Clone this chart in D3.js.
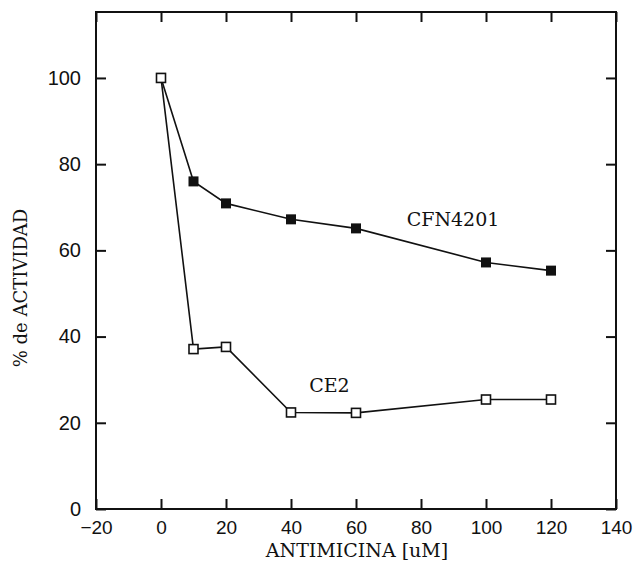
<!DOCTYPE html>
<html>
<head>
<meta charset="utf-8">
<script src="https://cdn.jsdelivr.net/npm/d3@7"></script>
<style>
  body { margin: 0; background: #fff; }
  .tick text { font-family: "Liberation Sans", sans-serif; font-size: 20px; fill: #111; }
  .lbl { font-family: "DejaVu Serif", serif; fill: #111; }
</style>
</head>
<body>
<svg width="638" height="573"></svg>
<script>
// antimicina concentration (uM)
var conc = [0, 10, 20, 40, 60, 100, 120];
// % actividad
var cfn4201 = [100, 76.0, 70.9, 67.2, 65.1, 57.2, 55.3];
var ce2 = [100, 37.1, 37.6, 22.4, 22.3, 25.4, 25.4];

var xTicks = [-20, 0, 20, 40, 60, 80, 100, 120, 140];
var yTicks = [0, 20, 40, 60, 80, 100];

var margin = { top: 12, right: 22, bottom: 64, left: 96 };

var svg = d3.select("svg"),
    width = +svg.attr("width") - margin.left - margin.right,
    height = +svg.attr("height") - margin.top - margin.bottom;

var x = d3.scaleLinear().domain([-20, 140]).range([0, width]),
    y = d3.scaleLinear().domain([0, 115.3]).range([height, 0]);

var g = svg.append("g")
    .attr("transform", "translate(" + margin.left + "," + margin.top + ")");

function fmt(d) { return d < 0 ? "\u2212" + Math.abs(d) : d; }

// axes, ticks pointing inward
var xAx = g.append("g")
    .attr("transform", "translate(0," + height + ")")
    .call(d3.axisBottom(x).tickValues(xTicks).tickSizeInner(-10).tickSizeOuter(0).tickPadding(12).tickFormat(fmt));
xAx.selectAll("text").style("font-size", "19px");
g.append("g")
    .call(d3.axisTop(x).tickValues(xTicks).tickSizeInner(-10).tickSizeOuter(0).tickFormat(""));
g.append("g")
    .call(d3.axisLeft(y).tickValues(yTicks).tickSizeInner(-10).tickSizeOuter(0).tickPadding(15));
g.append("g")
    .attr("transform", "translate(" + width + ",0)")
    .call(d3.axisRight(y).tickValues(yTicks).tickSizeInner(-10).tickSizeOuter(0).tickFormat(""));

g.selectAll(".domain").remove();
g.selectAll(".tick line").attr("stroke", "#111").attr("stroke-width", 2);

g.append("rect")
    .attr("x", 0).attr("y", 0)
    .attr("width", width).attr("height", height)
    .attr("fill", "none")
    .attr("stroke", "#111")
    .attr("stroke-width", 2);

var series = [
    { name: "CFN4201", values: cfn4201, filled: true },
    { name: "CE2", values: ce2, filled: false }
];

var line = d3.line()
    .x(function (d) { return x(d[0]); })
    .y(function (d) { return y(d[1]); });

series.forEach(function (s) {
    var pts = conc.map(function (c, i) { return [c, s.values[i]]; });

    g.append("path")
        .datum(pts)
        .attr("fill", "none")
        .attr("stroke", "#111")
        .attr("stroke-width", 1.6)
        .attr("d", line);

    var sz = s.filled ? 10 : 9;
    g.selectAll(".pt-" + s.name)
        .data(pts)
        .enter().append("rect")
        .attr("x", function (d) { return x(d[0]) - sz / 2; })
        .attr("y", function (d) { return y(d[1]) - sz / 2; })
        .attr("width", sz)
        .attr("height", sz)
        .attr("fill", s.filled ? "#111" : "#fff")
        .attr("stroke", "#111")
        .attr("stroke-width", s.filled ? 0 : 1.6);
});

// series labels
g.append("text").attr("class", "lbl")
    .attr("x", x(75.6)).attr("y", y(65.7))
    .style("font-size", "19px")
    .text("CFN4201");
g.append("text").attr("class", "lbl")
    .attr("x", x(45.6)).attr("y", y(27.1))
    .style("font-size", "19px")
    .text("CE2");

// axis titles
svg.append("text").attr("class", "lbl")
    .attr("x", 357).attr("y", 557)
    .attr("text-anchor", "middle")
    .style("font-size", "19px")
    .text("ANTIMICINA [uM]");
svg.append("text").attr("class", "lbl")
    .attr("transform", "translate(27,288) rotate(-90)")
    .attr("text-anchor", "middle")
    .style("font-size", "18px")
    .text("% de ACTIVIDAD");
</script>
</body>
</html>
